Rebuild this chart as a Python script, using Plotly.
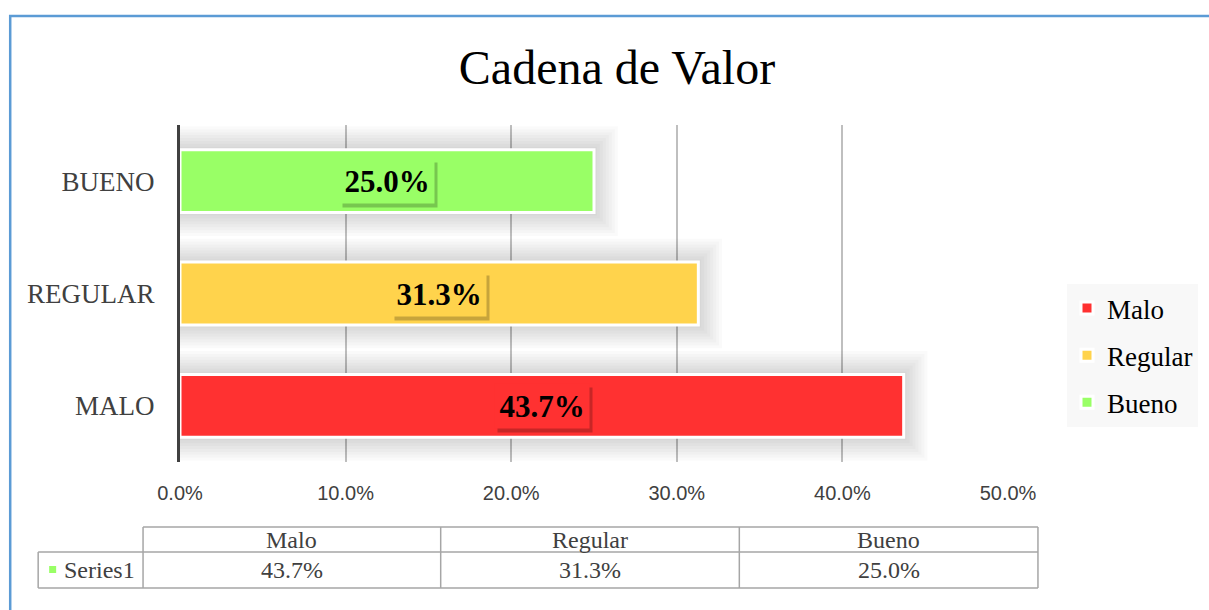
import plotly.graph_objects as go

# ---- data ----
categories = ["MALO", "REGULAR", "BUENO"]
legend_names = ["Malo", "Regular", "Bueno"]
values = [0.437, 0.313, 0.250]
colors = ["#FF3131", "#FFD34C", "#99FF66"]
series_name = "Series1"
title_text = "Cadena de Valor"

W, H = 1209, 610
L, R, T, B = 180, 200, 125, 148
PW, PH = W - L - R, H - T - B


def px(x):
    return (x - L) / PW


def py(y):
    return (H - B - y) / PH


fig = go.Figure()

# soft shadow layers behind bars
for k in range(1, 9):
    for cat, v in zip(categories, values):
        fig.add_trace(go.Bar(
            y=[cat], x=[v + k * 0.0018], orientation="h", width=0.56 + k * 0.052,
            marker=dict(color="rgba(0,0,0,0.018)", line=dict(width=0)),
            showlegend=False, hoverinfo="skip"))

# main bars
for cat, name, v, c in zip(categories, legend_names, values, colors):
    fig.add_trace(go.Bar(
        y=[cat], x=[v], orientation="h", name=name, width=0.56,
        marker=dict(color=c, line=dict(color="white", width=3)),
        legendgroup=name))

annotations = []
# data labels with shadow boxes
for cat, v, c in zip(categories, values, colors):
    label = f"{v * 100:.1f}%"
    annotations.append(dict(
        x=v / 2, y=cat, xref="x", yref="y", text="&nbsp;", showarrow=False,
        xanchor="center", yanchor="middle", width=86, height=36,
        font=dict(family="Liberation Serif", size=10, color="rgba(0,0,0,0)"),
        bgcolor="rgba(0,0,0,0.22)", borderpad=4, xshift=3, yshift=-4))
    annotations.append(dict(
        x=v / 2, y=cat, xref="x", yref="y", text=f"<b>{label}</b>", showarrow=False,
        xanchor="center", yanchor="middle", width=86, height=36,
        font=dict(family="Liberation Serif", size=31, color="black"),
        bgcolor=c, borderpad=4))

shapes = []
# outer blue border
shapes.append(dict(type="rect", xref="paper", yref="paper",
                   x0=px(10), y0=py(16), x1=px(1230), y1=py(640),
                   line=dict(color="#5B9BD5", width=2.5), fillcolor="rgba(0,0,0,0)"))

# data table below the chart
tbl_line = dict(color="#A6A6A6", width=1.5)
col_x = [143, 441, 740, 1039]
row_y = [527, 552, 588]
series_x0 = 38
# horizontal lines
shapes.append(dict(type="line", xref="paper", yref="paper", x0=px(col_x[0]), x1=px(col_x[-1]),
                   y0=py(row_y[0]), y1=py(row_y[0]), line=tbl_line))
shapes.append(dict(type="line", xref="paper", yref="paper", x0=px(series_x0), x1=px(col_x[-1]),
                   y0=py(row_y[1]), y1=py(row_y[1]), line=tbl_line))
shapes.append(dict(type="line", xref="paper", yref="paper", x0=px(series_x0), x1=px(col_x[-1]),
                   y0=py(row_y[2]), y1=py(row_y[2]), line=tbl_line))
# vertical lines
for cx in col_x:
    shapes.append(dict(type="line", xref="paper", yref="paper", x0=px(cx), x1=px(cx),
                       y0=py(row_y[0]), y1=py(row_y[2]), line=tbl_line))
shapes.append(dict(type="line", xref="paper", yref="paper", x0=px(series_x0), x1=px(series_x0),
                   y0=py(row_y[1]), y1=py(row_y[2]), line=tbl_line))
# series legend key
shapes.append(dict(type="rect", xref="paper", yref="paper", x0=px(49), x1=px(56),
                   y0=py(566), y1=py(573), line=dict(width=0), fillcolor=colors[2]))

tbl_font = dict(family="Liberation Serif", size=24, color="#404040")
for i, (name, v) in enumerate(zip(legend_names, values)):
    xc = px((col_x[i] + col_x[i + 1]) / 2)
    annotations.append(dict(x=xc, y=py((row_y[0] + row_y[1]) / 2), xref="paper", yref="paper",
                            text=name, showarrow=False, xanchor="center", yanchor="middle",
                            font=tbl_font))
    annotations.append(dict(x=xc, y=py((row_y[1] + row_y[2]) / 2), xref="paper", yref="paper",
                            text=f"{v * 100:.1f}%", showarrow=False, xanchor="center",
                            yanchor="middle", font=tbl_font))
annotations.append(dict(x=px(62), y=py((row_y[1] + row_y[2]) / 2), xref="paper", yref="paper",
                        text=series_name, showarrow=False, xanchor="left", yanchor="middle",
                        font=tbl_font))

fig.update_layout(
    width=W, height=H,
    margin=dict(l=L, r=R, t=T, b=B),
    paper_bgcolor="white", plot_bgcolor="white",
    barmode="overlay",
    title=dict(text=title_text, x=617 / W, xanchor="center", y=1 - 67 / H, yanchor="middle",
               font=dict(family="Liberation Serif", size=48, color="black")),
    xaxis=dict(range=[0, 0.5], dtick=0.1, tickformat=".1%", showgrid=True,
               gridcolor="#BFBFBF", gridwidth=1.5, zeroline=False, showline=False,
               ticklabelstandoff=17,
               tickfont=dict(family="Liberation Sans", size=20, color="#404040")),
    yaxis=dict(categoryorder="array", categoryarray=categories, range=[-0.5, 2.5],
               showgrid=False, zeroline=False, showline=True, linecolor="#404040",
               linewidth=3, ticklabelstandoff=17,
               tickfont=dict(family="Liberation Serif", size=27, color="#404040")),
    legend=dict(x=px(1067), y=py(284), xanchor="left", yanchor="top",
                bgcolor="#F8F8F8", traceorder="grouped", tracegroupgap=9,
                font=dict(family="Liberation Serif", size=27, color="black")),
    shapes=shapes,
    annotations=annotations,
    showlegend=True,
)

fig.write_html("out.html", config={"displayModeBar": False},
               post_script="document.body.style.margin='0';")
